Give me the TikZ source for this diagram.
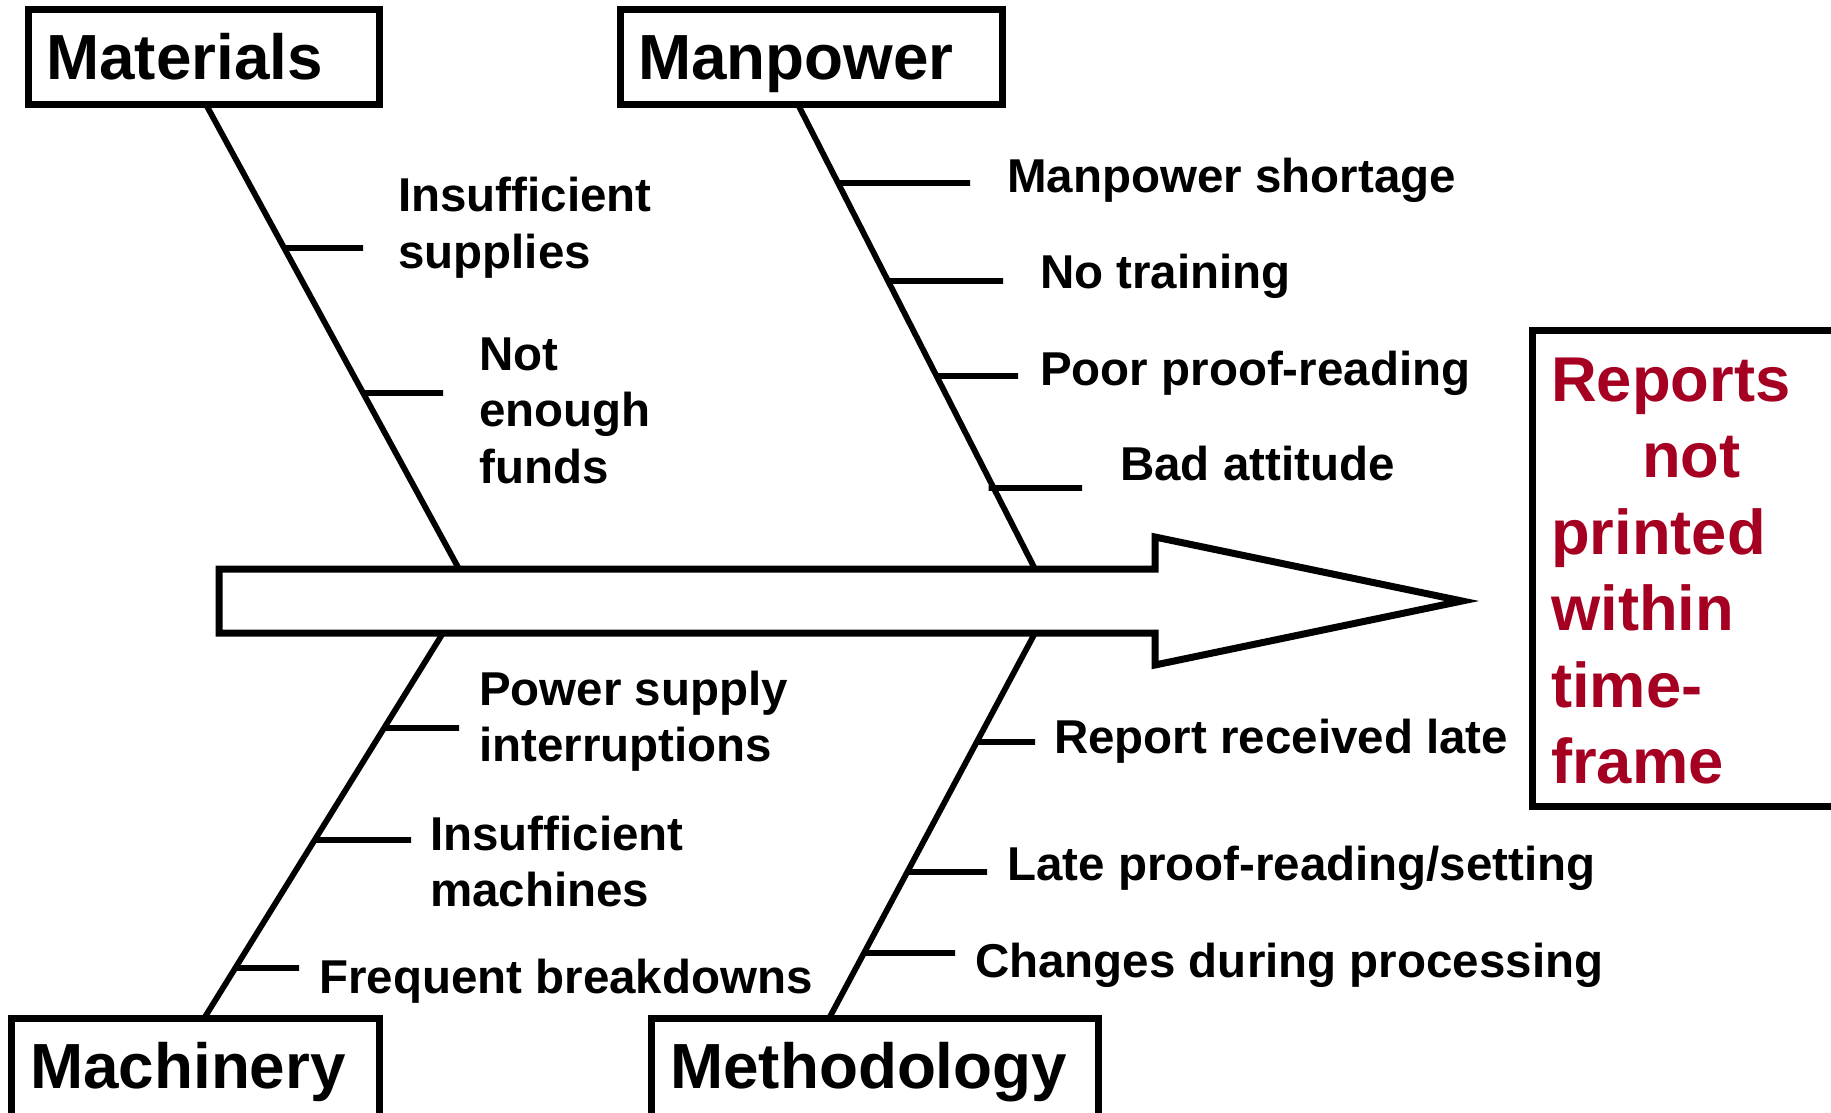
\documentclass[tikz,border=0pt]{standalone}
\usepackage{fontspec}
\setmainfont{Liberation Sans}
\definecolor{effectred}{RGB}{165,0,33}

\begin{document}
\begin{tikzpicture}[x=1pt,y=-1pt,
  catbox/.style={draw=black, line width=7pt, fill=white, rectangle, inner sep=0pt, anchor=north west},
  cattext/.style={anchor=base west, inner sep=0pt, font=\fontsize{63.8}{76}\selectfont\bfseries},
  cause/.style={anchor=base west, inner sep=0pt, font=\fontsize{47.5}{56.5}\selectfont\bfseries},
  effecttext/.style={anchor=base west, inner sep=0pt, text=effectred, font=\fontsize{63.3}{76.5}\selectfont\bfseries},
  bone/.style={line width=5.8pt},
  rib/.style={line width=5.8pt},
  headarrow/.style={draw=black, fill=white, line width=7pt, line join=miter},
]
\useasboundingbox (0,0) rectangle (1831,1113);
\clip (0,0) rectangle (1831,1113);

% category boxes (anchors sit on the outer edge of the frame)
\node[catbox, minimum width=351pt, minimum height=95pt] (matbox) at (25,6) {};
\node[catbox, minimum width=382pt, minimum height=95pt] (manbox) at (617,6) {};
\node[catbox, minimum width=368pt, minimum height=110pt] (machbox) at (8,1015) {};
\node[catbox, minimum width=447pt, minimum height=110pt] (methbox) at (648,1015) {};
\node[catbox, minimum width=320pt, minimum height=476pt] (effbox) at (1529,327) {};

% ends of the four bones
\coordinate (mat-top)   at (206,104.5);
\coordinate (mat-foot)  at (459,569);
\coordinate (man-top)   at (798,104.5);
\coordinate (man-foot)  at (1035,569);
\coordinate (mach-top)  at (443,633);
\coordinate (mach-foot) at (204,1018.5);
\coordinate (meth-top)  at (1035,633);
\coordinate (meth-foot) at (829,1018.5);

\draw[bone] (mat-top) -- (mat-foot);
\draw[bone] (man-top) -- (man-foot);
\draw[bone] (mach-top) -- (mach-foot);
\draw[bone] (meth-top) -- (meth-foot);

% free ends of the ribs
\coordinate (mat1) at (363,248);
\coordinate (mat2) at (443,393);
\coordinate (man1) at (970,183);
\coordinate (man2) at (1003,281);
\coordinate (man3) at (1018,376);
\coordinate (man4) at (1082,488);
\coordinate (mach1) at (459,728);
\coordinate (mach2) at (411,840);
\coordinate (mach3) at (299,968);
\coordinate (meth1) at (1035,742);
\coordinate (meth2) at (987,872);
\coordinate (meth3) at (955,953);

\draw[rib] (intersection of mat-top--mat-foot and mat1--{0,248}) -- (mat1);
\draw[rib] (intersection of mat-top--mat-foot and mat2--{0,393}) -- (mat2);
\draw[rib] (intersection of man-top--man-foot and man1--{0,183}) -- (man1);
\draw[rib] (intersection of man-top--man-foot and man2--{0,281}) -- (man2);
\draw[rib] (intersection of man-top--man-foot and man3--{0,376}) -- (man3);
\draw[rib] ([xshift=-5pt]intersection of man-top--man-foot and man4--{0,488}) -- (man4);
\draw[rib] (intersection of mach-top--mach-foot and mach1--{0,728}) -- (mach1);
\draw[rib] (intersection of mach-top--mach-foot and mach2--{0,840}) -- (mach2);
\draw[rib] (intersection of mach-top--mach-foot and mach3--{0,968}) -- (mach3);
\draw[rib] (intersection of meth-top--meth-foot and meth1--{0,742}) -- (meth1);
\draw[rib] (intersection of meth-top--meth-foot and meth2--{0,872}) -- (meth2);
\draw[rib] (intersection of meth-top--meth-foot and meth3--{0,953}) -- (meth3);

% the main arrow
\coordinate (tail-top) at (219,569);
\coordinate (tail-bot) at (219,633);
\coordinate (neck-top) at (1155,569);
\coordinate (neck-bot) at (1155,633);
\coordinate (barb-top) at (1155,537);
\coordinate (barb-bot) at (1155,665);
\coordinate (tip)      at (1462,601);
\draw[headarrow] (tail-top) -- (neck-top) -- (barb-top) -- (tip) -- (barb-bot)
  -- (neck-bot) -- (tail-bot) -- cycle;

% category titles
\node[cattext] (mattitle)  at (46,80)    {Materials};
\node[cattext] (mantitle)  at (638,80)   {Manpower};
\node[cattext] (machtitle) at (30,1088)  {Machinery};
\node[cattext] (methtitle) at (670,1088) {Methodology};

% causes
\node[cause] (c-supplies) at (398,211.7) {\begin{tabular}[t]{@{}l@{}}Insufficient\\supplies\end{tabular}};
\node[cause] (c-funds)    at (479,370)   {\begin{tabular}[t]{@{}l@{}}Not\\enough\\funds\end{tabular}};
\node[cause] (c-shortage) at (1007,193)  {Manpower shortage};
\node[cause] (c-training) at (1040,288)  {No training};
\node[cause] (c-proof)    at (1040,385)  {Poor proof-reading};
\node[cause] (c-attitude) at (1120,480)  {Bad attitude};
\node[cause] (c-power)    at (479,705)   {\begin{tabular}[t]{@{}l@{}}Power supply\\interruptions\end{tabular}};
\node[cause] (c-machines) at (430,850)   {\begin{tabular}[t]{@{}l@{}}Insufficient\\machines\end{tabular}};
\node[cause] (c-breaks)   at (319,993)   {Frequent breakdowns};
\node[cause] (c-late)     at (1054,753)  {Report received late};
\node[cause] (c-setting)  at (1007,880)  {Late proof-reading/setting};
\node[cause] (c-changes)  at (975,977)   {Changes during processing};

% effect
\node[effecttext] (effect) at (1551,401) {\begin{tabular}[t]{@{}l@{}}Reports\\\hspace*{91pt}not\\printed\\within\\time-\\frame\end{tabular}};
\end{tikzpicture}
\end{document}
